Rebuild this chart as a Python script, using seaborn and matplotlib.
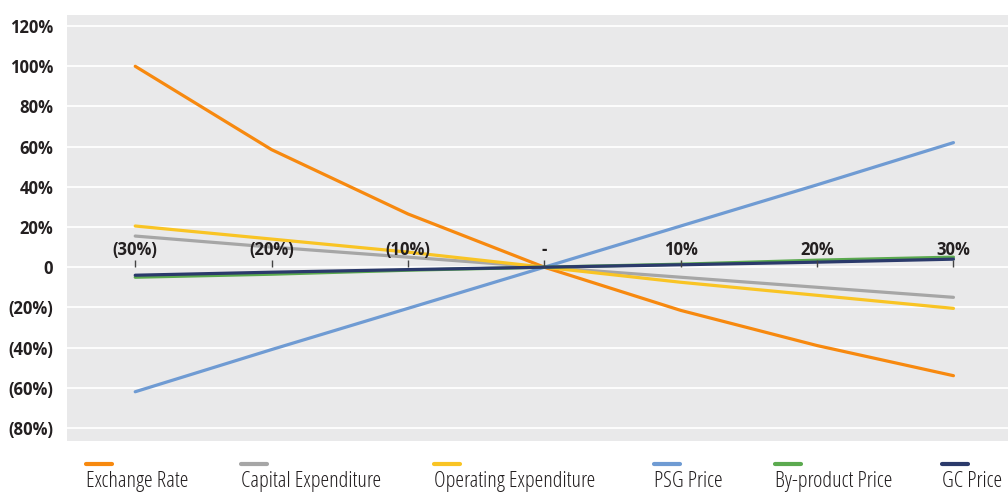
import pandas as pd
import numpy as np
import seaborn as sns
from matplotlib import pyplot as plt
from matplotlib.lines import Line2D

categories = ['(30%)', '(20%)', '(10%)', '-', '10%', '20%', '30%']
exchange_rate = [100, 58.5, 26.5, 0, -21.5, -39, -54]
capital_exp = [15.5, 10, 5, 0, -5, -10, -15]
operating_exp = [20.5, 14, 7.5, 0, -7.5, -14, -20.5]
psg_price = [-62, -41, -20.5, 0, 20.5, 41, 62]
byproduct_price = [-5, -3.5, -1.5, 0, 1.5, 3.5, 5]
gc_price = [-4, -2.5, -1.2, 0, 1.2, 2.5, 4]

series_names = ['Exchange Rate', 'Capital Expenditure', 'Operating Expenditure',
                'PSG Price', 'By-product Price', 'GC Price']
series_values = [exchange_rate, capital_exp, operating_exp, psg_price, byproduct_price, gc_price]
colors = ['#F7890F', '#A6A6A6', '#F9C424', '#6F9BD3', '#5BAA4F', '#2B3A6B']

rows = []
for name, vals in zip(series_names, series_values):
    for i, (c, v) in enumerate(zip(categories, vals)):
        rows.append({'pos': i, 'change': c, 'series': name, 'value': v})
df = pd.DataFrame(rows)

sns.set_theme(style='darkgrid')
plt.rcParams['font.family'] = ['Open Sans', 'DejaVu Sans']

fig = plt.figure(figsize=(10.08, 4.93), dpi=100)
ax = fig.add_axes([0.0665, 0.1055, 0.9335, 0.864])
ax.set_facecolor('#E9E9EA')

sns.lineplot(data=df, x='pos', y='value', hue='series', palette=colors,
             hue_order=series_names, linewidth=2.3, ax=ax, legend=False, sort=False)

ax.set_xlim(-0.5, 6.4)
ax.set_ylim(-86.5, 125.5)
ax.set_yticks(np.arange(-80, 121, 20))
ax.set_yticklabels([f'({-t}%)' if t < 0 else ('0' if t == 0 else f'{t}%')
                    for t in range(-80, 121, 20)], fontsize=12, fontweight='bold',
                   color='#231F20')
ax.grid(axis='y', color='white', linewidth=1.3)
ax.grid(axis='x', visible=False)

# category axis sits on the zero line, labels above it
ax.xaxis.tick_top()
ax.spines['top'].set_position(('data', 0))
for s in ax.spines.values():
    s.set_visible(False)
ax.set_xticks(range(len(categories)))
ax.set_xticklabels(categories, fontsize=12, fontweight='bold', color='#231F20')
ax.tick_params(axis='x', which='both', top=True, direction='out', length=5, width=1,
               color='#444444', pad=1)
ax.tick_params(axis='y', length=0, pad=10)
ax.xaxis.set_zorder(5)
ax.set_xlabel('')
ax.set_ylabel('')

# legend along the bottom: short line above each name
leg_x = [86, 241, 434, 654, 775, 942]
for name, col, x in zip(series_names, colors, leg_x):
    fx = x / 1008
    fig.add_artist(Line2D([fx, fx + 26 / 1008], [1 - 464 / 493] * 2, color=col,
                          linewidth=3, transform=fig.transFigure))
    fig.text(fx, 1 - 487 / 493, name, fontsize=16, color='#231F20', va='baseline',
             ha='left', fontstretch='condensed')

plt.savefig('out.png', dpi=100)
